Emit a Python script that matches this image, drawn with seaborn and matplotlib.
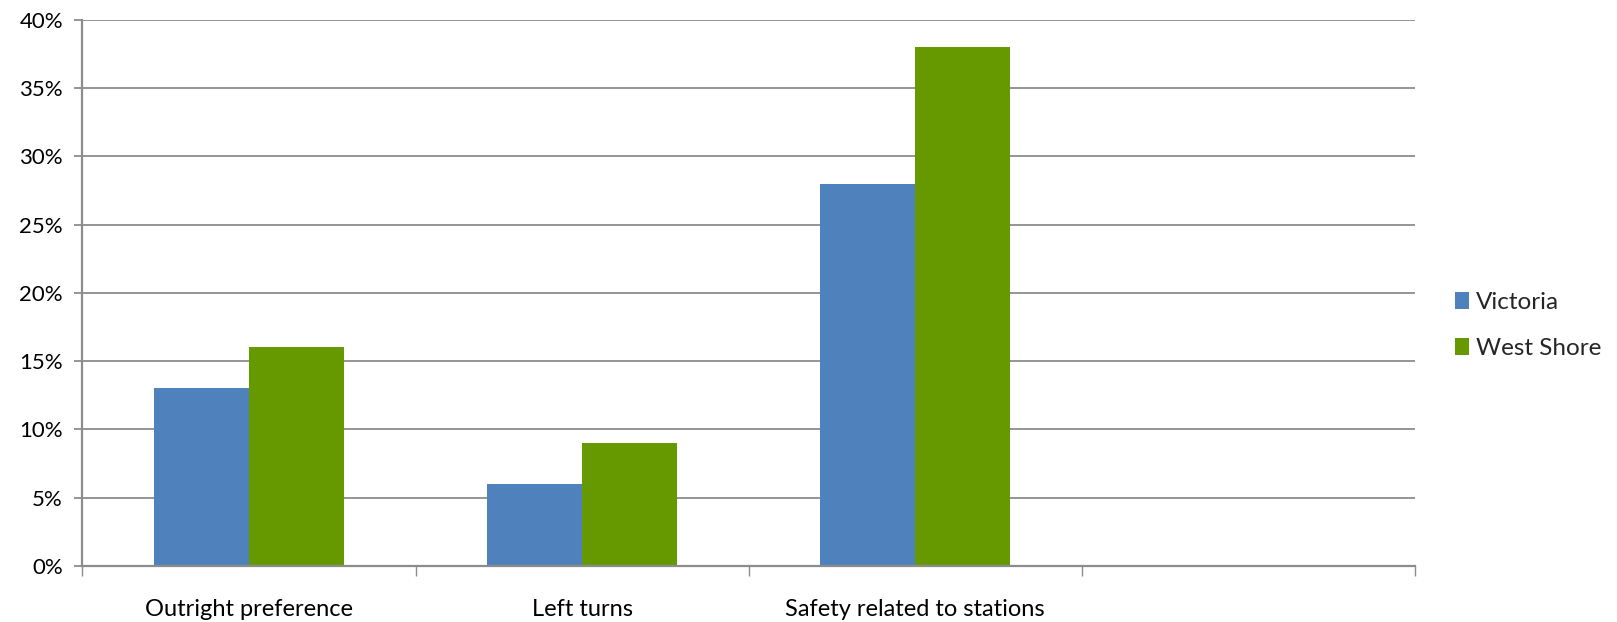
import matplotlib
matplotlib.use("Agg")
import matplotlib.pyplot as plt
import seaborn as sns
import pandas as pd
import numpy as np
from matplotlib.ticker import FuncFormatter, FixedLocator
from matplotlib.patches import Patch

categories = ["Outright preference", "Left turns", "Safety related to stations"]
series = ["Victoria", "West Shore"]
victoria = [0.13, 0.06, 0.28]
west_shore = [0.16, 0.09, 0.38]
yticks = [0, 0.05, 0.10, 0.15, 0.20, 0.25, 0.30, 0.35, 0.40]
colors = ["#4F81BD", "#669900"]

sns.set_theme(style="white")
plt.rcParams["font.family"] = ["Lato", "DejaVu Sans"]

df = pd.DataFrame({
    "category": categories * 2,
    "series": [series[0]] * 3 + [series[1]] * 3,
    "value": victoria + west_shore,
})

fig = plt.figure(figsize=(16.17, 6.22), dpi=100)
ax = fig.add_axes([0.051, 0.090, 0.824, 0.8785])

sns.barplot(data=df, x="category", y="value", hue="series", order=categories,
            hue_order=series, palette=colors, width=0.57, saturation=1,
            errorbar=None, ax=ax, legend=False, linewidth=0)

ax.set_xlim(-0.5, 3.5)
ax.set_ylim(0, 0.40)
ax.set_yticks(yticks)
ax.yaxis.set_major_formatter(FuncFormatter(lambda v, p: f"{round(v*100)}%"))
ax.yaxis.grid(True, color="#8c8c8c", linewidth=1.3)
ax.set_axisbelow(True)
ax.set_xlabel("")
ax.set_ylabel("")

ax.set_xticks(range(len(categories)))
ax.set_xticklabels(categories)
ax.xaxis.set_minor_locator(FixedLocator([-0.5, 0.5, 1.5, 2.5, 3.5]))
ax.tick_params(axis="x", which="major", length=0, pad=24, labelsize=17, colors="black")
ax.tick_params(axis="x", which="minor", length=7, width=1, color="#8c8c8c", bottom=True)
ax.tick_params(axis="y", which="major", length=6, width=1.3, color="#8c8c8c", left=True,
               labelsize=16, pad=8, labelcolor="black")

for s in ["top", "right"]:
    ax.spines[s].set_visible(False)
for s in ["left", "bottom"]:
    ax.spines[s].set_color("#8c8c8c")
    ax.spines[s].set_linewidth(1.6)

handles = [Patch(facecolor=c, edgecolor="none") for c in colors]
fig.legend(handles, series, loc="center left", bbox_to_anchor=(0.886, 0.477),
           frameon=False, fontsize=17.5, handlelength=0.6, handleheight=0.7,
           handletextpad=0.3, labelspacing=1.05)

fig.savefig("out.png", dpi=100)
